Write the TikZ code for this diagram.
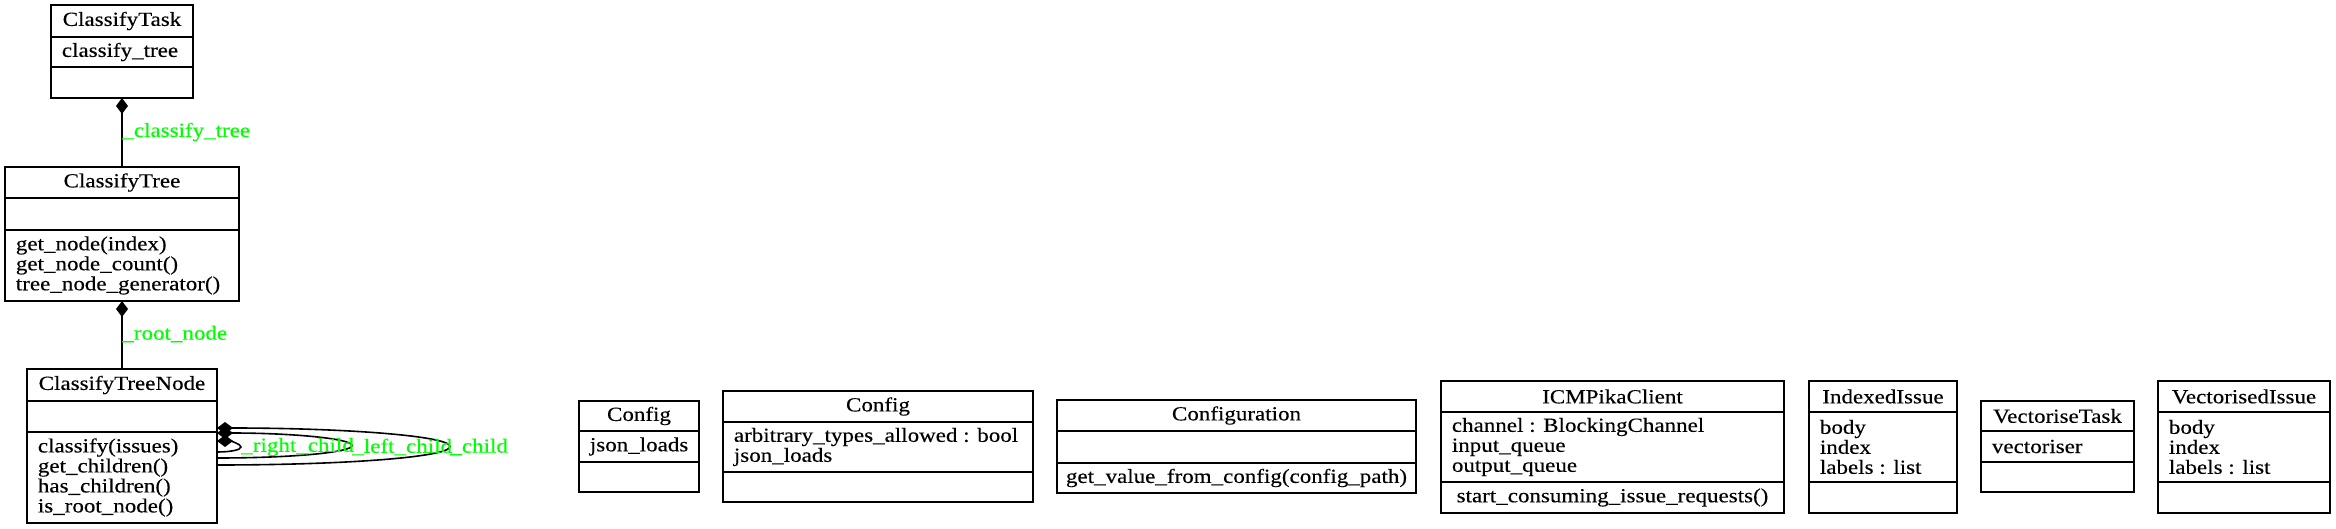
\documentclass[tikz,border=0pt]{standalone}
\usepackage{fontspec}
\setmainfont{Liberation Serif}[FakeStretch=1.15,FakeBold=0.3]
\usetikzlibrary{arrows.meta}
\definecolor{lab}{RGB}{0,255,0}
\tikzset{
  cbox/.style={draw=black, line width=0.8pt, inner sep=0pt, outer sep=0pt},
  cline/.style={draw=black, line width=0.8pt},
  ctitle/.style={inner sep=0pt, font=\fontsize{10}{10}\selectfont},
  ctext/.style={inner sep=0pt, anchor=west, align=left, font=\fontsize{10}{10}\selectfont},
  elab/.style={inner sep=0pt, anchor=west, text=lab, font=\fontsize{10}{10}\selectfont},
  comp/.style={draw=black, line width=0.8pt, {Diamond[length=8pt,width=6pt]}-},
}
% name, x1, y1, x2, y2, divider1, divider2
\newcommand\umlbox[7]{%
  \pgfmathsetmacro\bw{(#4-#2)*0.5}%
  \pgfmathsetmacro\bh{(#5-#3)*0.5}%
  \node[cbox, minimum width=\bw pt, minimum height=\bh pt, anchor=north west] (#1) at (#2,#3) {};
  \draw[cline] (#2,#6) -- (#4,#6);
  \draw[cline] (#2,#7) -- (#4,#7);
  \coordinate (#1-t) at ({(#2+#4)/2},{(#3+#6)/2});
  \coordinate (#1-a) at ({#2+10.5},{(#6+#7)/2});
  \coordinate (#1-m) at ({#2+10.5},{(#7+#5)/2});
  \coordinate (#1-mc) at ({(#2+#4)/2},{(#7+#5)/2});
}
\begin{document}
\begin{tikzpicture}[x=0.5pt,y=-0.5pt]
\useasboundingbox (0,0) rectangle (2336,529);

% ClassifyTask
\umlbox{task}{51}{5}{193}{98}{37}{67}
\node[ctitle] (task-title) at (task-t) {ClassifyTask};
\node[ctext] (task-attr) at (task-a) {classify\_tree};

% ClassifyTree
\umlbox{tree}{5}{167}{239}{301}{198}{230}
\node[ctitle] (tree-title) at (tree-t) {ClassifyTree};
\node[ctext] (tree-meth) at (tree-m) {get\_node(index)\\get\_node\_count()\\tree\_node\_generator()};

% ClassifyTreeNode
\umlbox{ctn}{27}{369}{217}{523}{401}{432}
\node[ctitle] (ctn-title) at (ctn-t) {ClassifyTreeNode};
\node[ctext] (ctn-meth) at (ctn-m) {classify(issues)\\get\_children()\\has\_children()\\is\_root\_node()};

% Config (1)
\umlbox{cfga}{579}{401}{699}{492}{431}{462}
\node[ctitle] (cfga-title) at (cfga-t) {Config};
\node[ctext] (cfga-attr) at (cfga-a) {json\_loads};

% Config (2)
\umlbox{cfgb}{723}{391}{1033}{502}{422}{472}
\node[ctitle] (cfgb-title) at (cfgb-t) {Config};
\node[ctext] (cfgb-attr) at (cfgb-a) {arbitrary\_types\_allowed : bool\\json\_loads};

% Configuration
\umlbox{conf}{1057}{400}{1416}{493}{431}{463}
\node[ctitle] (conf-title) at (conf-t) {Configuration};
\node[ctitle] (conf-meth) at (conf-mc) {get\_value\_from\_config(config\_path)};

% ICMPikaClient
\umlbox{pika}{1441}{381}{1784}{513}{412}{482}
\node[ctitle] (pika-title) at (pika-t) {ICMPikaClient};
\node[ctext] (pika-attr) at (pika-a) {channel : BlockingChannel\\input\_queue\\output\_queue};
\node[ctitle] (pika-meth) at (pika-mc) {start\_consuming\_issue\_requests()};

% IndexedIssue
\umlbox{idx}{1809}{381}{1957}{513}{412}{482}
\node[ctitle] (idx-title) at (idx-t) {IndexedIssue};
\node[ctext] (idx-attr) at (idx-a) {body\\index\\labels : list};

% VectoriseTask
\umlbox{vtask}{1981}{401}{2134}{492}{431}{462}
\node[ctitle] (vtask-title) at (vtask-t) {VectoriseTask};
\node[ctext] (vtask-attr) at (vtask-a) {vectoriser};

% VectorisedIssue
\umlbox{vis}{2158}{381}{2330}{513}{412}{482}
\node[ctitle] (vis-title) at (vis-t) {VectorisedIssue};
\node[ctext] (vis-attr) at (vis-a) {body\\index\\labels : list};

% compositions
\draw[comp] (task.south) -- (tree.north);
\node[elab] (lab-ct) at (122,132) {\_classify\_tree};
\draw[comp] (tree.south) -- (ctn.north);
\node[elab] (lab-rn) at (122,334) {\_root\_node};

% self loops on ClassifyTreeNode
\coordinate (o-s) at (217,428);
\coordinate (o-e) at (217,465);
\coordinate (m-s) at (217,433);
\coordinate (m-e) at (217,458);
\coordinate (i-s) at (217,441);
\coordinate (i-e) at (217,452);
\draw[comp] (o-s) .. controls (346,428) and (450,436) .. (450,446.5) .. controls (450,457) and (346,465) .. (o-e);
\draw[comp] (m-s) .. controls (292,433) and (352,438.6) .. (352,445.5) .. controls (352,452.4) and (292,458) .. (m-e);
\draw[comp] (i-s) .. controls (230,441) and (241,444) .. (241,447) .. controls (241,450) and (230,452) .. (i-e);
\node[elab] (lab-rc) at (241,447) {\_right\_child};
\node[elab] (lab-lc) at (352,447) {\_left\_child};
\node[elab] (lab-c) at (450,447) {\_child};
\end{tikzpicture}
\end{document}
